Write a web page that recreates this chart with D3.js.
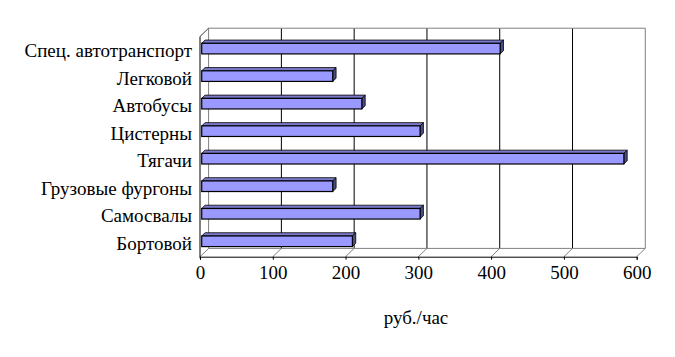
<!DOCTYPE html>
<html><head><meta charset="utf-8">
<script src="https://cdn.jsdelivr.net/npm/d3@7"></script>
<style>
html,body{margin:0;padding:0;background:#fff;}
svg{display:block;}
text{font-family:"Liberation Serif","Times New Roman",serif;fill:#000;}
</style></head>
<body>
<script>
const categories = ["Спец. автотранспорт","Легковой","Автобусы","Цистерны","Тягачи","Грузовые фургоны","Самосвалы","Бортовой"];
const values = [410, 180, 220, 300, 580, 180, 300, 207];
const tickValues = [0, 100, 200, 300, 400, 500, 600];
const axisTitle = "руб./час";

const W = 675, H = 357;
const svg = d3.select("body").append("svg").attr("width", W).attr("height", H);

// front plane geometry
const fx0 = 200, fx1 = 636.7, fy0 = 36.5, fy1 = 256.7;
const ddx = 8.6, ddy = -8.3;      // full depth offset
const bOff = 0.2;                 // bar front depth fraction
const bDepth = 0.39;              // bar depth fraction

const x = d3.scaleLinear().domain([0, 600]).range([fx0, fx1]);
const y = d3.scaleBand().domain(categories).range([fy0, fy1]).paddingInner(0.615).paddingOuter(0.3075);

const grey = "#808080";
const g = svg.append("g");

// back wall gridlines
tickValues.forEach(v => {
  const bx = x(v) + ddx;
  const isEdge = (v === 0 || v === 600);
  g.append("line").attr("x1", bx).attr("x2", bx).attr("y1", fy0 + ddy).attr("y2", fy1 + ddy)
    .attr("stroke", isEdge ? grey : "#000").attr("stroke-width", 1);
  // floor diagonals
  g.append("line").attr("x1", x(v)).attr("y1", fy1).attr("x2", bx).attr("y2", fy1 + ddy)
    .attr("stroke", grey).attr("stroke-width", 1);
});
// back wall top and floor back line
g.append("line").attr("x1", x(0) + ddx).attr("x2", x(600) + ddx).attr("y1", fy0 + ddy).attr("y2", fy0 + ddy).attr("stroke", grey);
g.append("line").attr("x1", x(0) + ddx).attr("x2", x(600) + ddx).attr("y1", fy1 + ddy).attr("y2", fy1 + ddy).attr("stroke", grey);
// left wall top diagonal
g.append("line").attr("x1", fx0).attr("y1", fy0).attr("x2", fx0 + ddx).attr("y2", fy0 + ddy).attr("stroke", "#404040");

// bars
const ox = ddx * bOff, oy = ddy * bOff;
const dx = ddx * bDepth, dy = ddy * bDepth;
const bh = y.bandwidth();
const bars = g.selectAll("g.bar").data(categories).join("g").attr("class", "bar");
bars.each(function(c, i) {
  const sel = d3.select(this);
  const xa = x(0) + ox, xb = x(values[i]) + ox;
  const ya = y(c) + oy, yb = ya + bh;
  sel.append("path")
    .attr("d", `M${xa},${ya}L${xa+dx},${ya+dy}L${xb+dx},${ya+dy}L${xb},${ya}Z`)
    .attr("fill", "#7a7acc").attr("stroke", "#000").attr("stroke-width", 0.8).attr("stroke-linejoin", "round");
  sel.append("path")
    .attr("d", `M${xb},${ya}L${xb+dx},${ya+dy}L${xb+dx},${yb+dy}L${xb},${yb}Z`)
    .attr("fill", "#4d4d88").attr("stroke", "#000").attr("stroke-width", 0.8).attr("stroke-linejoin", "round");
  sel.append("rect").attr("x", xa).attr("y", ya).attr("width", xb - xa).attr("height", bh)
    .attr("fill", "#9999ff").attr("stroke", "#000").attr("stroke-width", 1.2);
});

// front axes
g.append("line").attr("x1", fx0).attr("x2", fx0).attr("y1", fy0).attr("y2", fy1 + 1.5).attr("stroke", "#000");
const xAxis = d3.axisBottom(x).tickValues(tickValues).tickSize(3).tickPadding(6).tickFormat(d3.format("d"));
const ax = svg.append("g").attr("transform", `translate(0,${fy1})`).call(xAxis);
ax.select(".domain").attr("stroke", "#000");
ax.selectAll(".tick line").attr("stroke", "#000");
ax.selectAll(".tick text").attr("font-size", 19).attr("font-family", '"Liberation Serif", serif').attr("fill", "#000").attr("dy", "0.71em");

// category labels
const yLab = d3.scaleBand().domain(categories).range([fy0, fy1]);
svg.append("g").selectAll("text").data(categories).join("text")
  .attr("x", 192).attr("y", c => yLab(c) + yLab.bandwidth() / 2 + 7)
  .attr("text-anchor", "end").attr("font-size", 19).text(c => c);

// axis title
svg.append("text").attr("x", 416).attr("y", 323.5).attr("text-anchor", "middle").attr("font-size", 19).text(axisTitle);
</script>
</body></html>
